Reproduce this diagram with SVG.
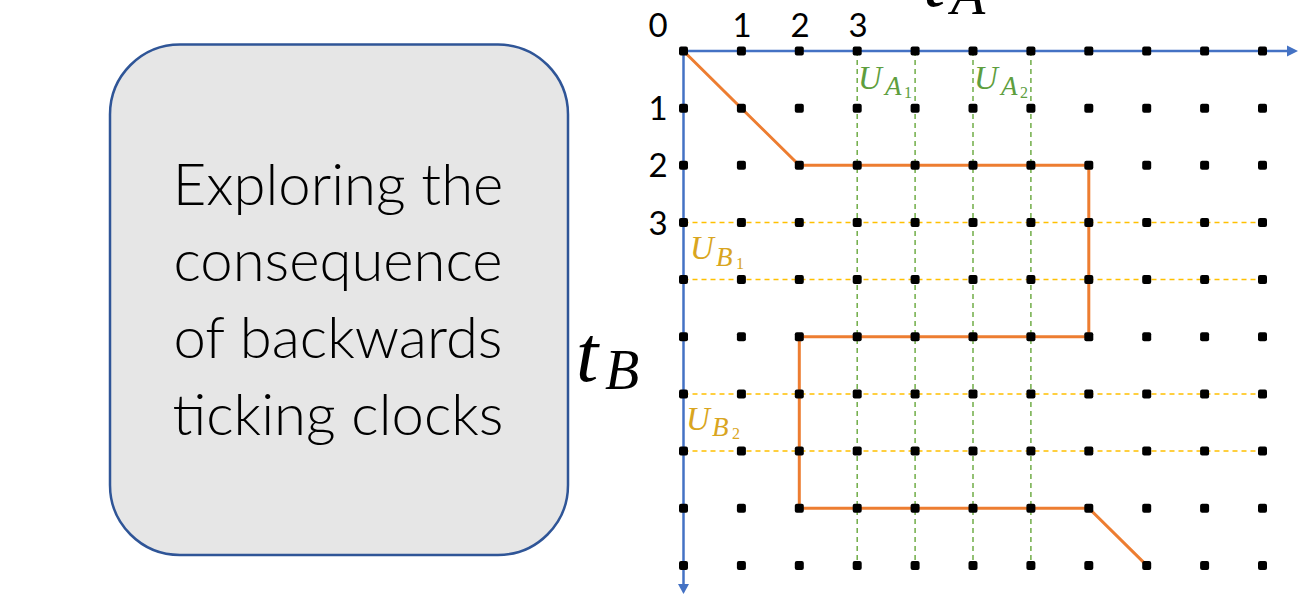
<svg xmlns="http://www.w3.org/2000/svg" xmlns:xlink="http://www.w3.org/1999/xlink" width="1303" height="604" viewBox="0 0 1303 604">
<style>
.lbl{font-family:Lato,"Liberation Sans",sans-serif;fill:#000}
.num{font-family:Lato,"Liberation Sans",sans-serif;font-size:33px;fill:#000;text-anchor:middle}
.m{font-family:"Liberation Serif","DejaVu Serif",serif;font-style:italic}
.r{font-family:"Liberation Serif","DejaVu Serif",serif;font-style:normal}
.ga{stroke:#70AD47;stroke-width:1.5;stroke-dasharray:5 4;fill:none}
.yb{stroke:#FFC000;stroke-width:1.5;stroke-dasharray:5 4;fill:none}
.axis{stroke:#4472C4;stroke-width:2.5;fill:none}
.path{stroke:#ED7D31;stroke-width:3;fill:none;stroke-linejoin:miter}
.gt{fill:#5E9E3E}
.yt{fill:#D9A520}
</style>
<defs>
<rect id="d" x="-4.5" y="-4.5" width="9" height="9" rx="2" fill="#000"/>
</defs>
<rect width="1303" height="604" fill="#fff"/>

<g id="title-box">
<rect x="110" y="44.5" width="458" height="510.5" rx="70" ry="70" fill="#E6E6E6" stroke="#2F5597" stroke-width="2.5"/>
<text class="lbl" text-anchor="middle" font-size="58" font-weight="300"><tspan x="338" y="205">Exploring the</tspan><tspan x="338" y="281">consequence</tspan><tspan x="338" y="358">of backwards</tspan><tspan x="338" y="435">ticking clocks</tspan></text>
</g>

<g id="connectors">
<g id="ua-lines">
<line class="ga" x1="857.2" y1="51" x2="857.2" y2="565.4"/>
<line class="ga" x1="915.1" y1="51" x2="915.1" y2="565.4"/>
<line class="ga" x1="973" y1="51" x2="973" y2="565.4"/>
<line class="ga" x1="1030.9" y1="51" x2="1030.9" y2="565.4"/>
</g>
<g id="ub-lines">
<line class="yb" x1="683.5" y1="222.5" x2="1262.5" y2="222.5"/>
<line class="yb" x1="683.5" y1="279.6" x2="1262.5" y2="279.6"/>
<line class="yb" x1="683.5" y1="393.9" x2="1262.5" y2="393.9"/>
<line class="yb" x1="683.5" y1="451.1" x2="1262.5" y2="451.1"/>
</g>
<g id="axes">
<line class="axis" x1="683.5" y1="51" x2="1289" y2="51"/>
<polygon points="1298,51 1287,45.5 1287,56.5" fill="#4472C4"/>
<line class="axis" x1="683.5" y1="51" x2="683.5" y2="586"/>
<polygon points="683.5,594 678,584 689,584" fill="#4472C4"/>
</g>
<polyline id="trajectory" class="path" points="683.5,51 741.4,108.2 799.3,165.3 1088.8,165.3 1088.8,336.8 799.3,336.8 799.3,508.2 1088.8,508.2 1146.7,565.4"/>
</g>

<g id="grid-dots">
<g id="row0"><use xlink:href="#d" x="683.5" y="51"/><use xlink:href="#d" x="741.4" y="51"/><use xlink:href="#d" x="799.3" y="51"/><use xlink:href="#d" x="857.2" y="51"/><use xlink:href="#d" x="915.1" y="51"/><use xlink:href="#d" x="973" y="51"/><use xlink:href="#d" x="1030.9" y="51"/><use xlink:href="#d" x="1088.8" y="51"/><use xlink:href="#d" x="1146.7" y="51"/><use xlink:href="#d" x="1204.6" y="51"/><use xlink:href="#d" x="1262.5" y="51"/></g>
<g id="row1"><use xlink:href="#d" x="683.5" y="108.2"/><use xlink:href="#d" x="741.4" y="108.2"/><use xlink:href="#d" x="799.3" y="108.2"/><use xlink:href="#d" x="857.2" y="108.2"/><use xlink:href="#d" x="915.1" y="108.2"/><use xlink:href="#d" x="973" y="108.2"/><use xlink:href="#d" x="1030.9" y="108.2"/><use xlink:href="#d" x="1088.8" y="108.2"/><use xlink:href="#d" x="1146.7" y="108.2"/><use xlink:href="#d" x="1204.6" y="108.2"/><use xlink:href="#d" x="1262.5" y="108.2"/></g>
<g id="row2"><use xlink:href="#d" x="683.5" y="165.3"/><use xlink:href="#d" x="741.4" y="165.3"/><use xlink:href="#d" x="799.3" y="165.3"/><use xlink:href="#d" x="857.2" y="165.3"/><use xlink:href="#d" x="915.1" y="165.3"/><use xlink:href="#d" x="973" y="165.3"/><use xlink:href="#d" x="1030.9" y="165.3"/><use xlink:href="#d" x="1088.8" y="165.3"/><use xlink:href="#d" x="1146.7" y="165.3"/><use xlink:href="#d" x="1204.6" y="165.3"/><use xlink:href="#d" x="1262.5" y="165.3"/></g>
<g id="row3"><use xlink:href="#d" x="683.5" y="222.5"/><use xlink:href="#d" x="741.4" y="222.5"/><use xlink:href="#d" x="799.3" y="222.5"/><use xlink:href="#d" x="857.2" y="222.5"/><use xlink:href="#d" x="915.1" y="222.5"/><use xlink:href="#d" x="973" y="222.5"/><use xlink:href="#d" x="1030.9" y="222.5"/><use xlink:href="#d" x="1088.8" y="222.5"/><use xlink:href="#d" x="1146.7" y="222.5"/><use xlink:href="#d" x="1204.6" y="222.5"/><use xlink:href="#d" x="1262.5" y="222.5"/></g>
<g id="row4"><use xlink:href="#d" x="683.5" y="279.6"/><use xlink:href="#d" x="741.4" y="279.6"/><use xlink:href="#d" x="799.3" y="279.6"/><use xlink:href="#d" x="857.2" y="279.6"/><use xlink:href="#d" x="915.1" y="279.6"/><use xlink:href="#d" x="973" y="279.6"/><use xlink:href="#d" x="1030.9" y="279.6"/><use xlink:href="#d" x="1088.8" y="279.6"/><use xlink:href="#d" x="1146.7" y="279.6"/><use xlink:href="#d" x="1204.6" y="279.6"/><use xlink:href="#d" x="1262.5" y="279.6"/></g>
<g id="row5"><use xlink:href="#d" x="683.5" y="336.8"/><use xlink:href="#d" x="741.4" y="336.8"/><use xlink:href="#d" x="799.3" y="336.8"/><use xlink:href="#d" x="857.2" y="336.8"/><use xlink:href="#d" x="915.1" y="336.8"/><use xlink:href="#d" x="973" y="336.8"/><use xlink:href="#d" x="1030.9" y="336.8"/><use xlink:href="#d" x="1088.8" y="336.8"/><use xlink:href="#d" x="1146.7" y="336.8"/><use xlink:href="#d" x="1204.6" y="336.8"/><use xlink:href="#d" x="1262.5" y="336.8"/></g>
<g id="row6"><use xlink:href="#d" x="683.5" y="393.9"/><use xlink:href="#d" x="741.4" y="393.9"/><use xlink:href="#d" x="799.3" y="393.9"/><use xlink:href="#d" x="857.2" y="393.9"/><use xlink:href="#d" x="915.1" y="393.9"/><use xlink:href="#d" x="973" y="393.9"/><use xlink:href="#d" x="1030.9" y="393.9"/><use xlink:href="#d" x="1088.8" y="393.9"/><use xlink:href="#d" x="1146.7" y="393.9"/><use xlink:href="#d" x="1204.6" y="393.9"/><use xlink:href="#d" x="1262.5" y="393.9"/></g>
<g id="row7"><use xlink:href="#d" x="683.5" y="451.1"/><use xlink:href="#d" x="741.4" y="451.1"/><use xlink:href="#d" x="799.3" y="451.1"/><use xlink:href="#d" x="857.2" y="451.1"/><use xlink:href="#d" x="915.1" y="451.1"/><use xlink:href="#d" x="973" y="451.1"/><use xlink:href="#d" x="1030.9" y="451.1"/><use xlink:href="#d" x="1088.8" y="451.1"/><use xlink:href="#d" x="1146.7" y="451.1"/><use xlink:href="#d" x="1204.6" y="451.1"/><use xlink:href="#d" x="1262.5" y="451.1"/></g>
<g id="row8"><use xlink:href="#d" x="683.5" y="508.2"/><use xlink:href="#d" x="741.4" y="508.2"/><use xlink:href="#d" x="799.3" y="508.2"/><use xlink:href="#d" x="857.2" y="508.2"/><use xlink:href="#d" x="915.1" y="508.2"/><use xlink:href="#d" x="973" y="508.2"/><use xlink:href="#d" x="1030.9" y="508.2"/><use xlink:href="#d" x="1088.8" y="508.2"/><use xlink:href="#d" x="1146.7" y="508.2"/><use xlink:href="#d" x="1204.6" y="508.2"/><use xlink:href="#d" x="1262.5" y="508.2"/></g>
<g id="row9"><use xlink:href="#d" x="683.5" y="565.4"/><use xlink:href="#d" x="741.4" y="565.4"/><use xlink:href="#d" x="799.3" y="565.4"/><use xlink:href="#d" x="857.2" y="565.4"/><use xlink:href="#d" x="915.1" y="565.4"/><use xlink:href="#d" x="973" y="565.4"/><use xlink:href="#d" x="1030.9" y="565.4"/><use xlink:href="#d" x="1088.8" y="565.4"/><use xlink:href="#d" x="1146.7" y="565.4"/><use xlink:href="#d" x="1204.6" y="565.4"/><use xlink:href="#d" x="1262.5" y="565.4"/></g>
</g>

<g id="tick-labels">
<text class="num" x="658" y="37">0</text>
<text class="num" x="742" y="37">1</text>
<text class="num" x="800" y="37">2</text>
<text class="num" x="858" y="37">3</text>
<text class="num" x="658" y="120">1</text>
<text class="num" x="658" y="177">2</text>
<text class="num" x="658" y="234.5">3</text>
</g>

<g id="axis-labels">
<text x="923" y="6"><tspan class="m" font-size="80">t</tspan><tspan class="m" font-size="56" x="951" y="14">A</tspan></text>
<text x="576" y="381"><tspan class="m" font-size="80">t</tspan><tspan class="m" font-size="56" x="605" y="389">B</tspan></text>
</g>

<g id="u-labels">
<text class="gt" x="858" y="89"><tspan class="m" font-size="33">U</tspan><tspan class="m" font-size="27" x="885" y="95">A</tspan><tspan class="r" font-size="16" x="904" y="98">1</tspan></text>
<text class="gt" x="974" y="89"><tspan class="m" font-size="33">U</tspan><tspan class="m" font-size="27" x="1001" y="95">A</tspan><tspan class="r" font-size="16" x="1020" y="98">2</tspan></text>
<text class="yt" x="690" y="259"><tspan class="m" font-size="33">U</tspan><tspan class="m" font-size="27" x="716" y="266">B</tspan><tspan class="r" font-size="16" x="736" y="269">1</tspan></text>
<text class="yt" x="686" y="430"><tspan class="m" font-size="33">U</tspan><tspan class="m" font-size="27" x="712" y="436">B</tspan><tspan class="r" font-size="16" x="732" y="439">2</tspan></text>
</g>
</svg>
